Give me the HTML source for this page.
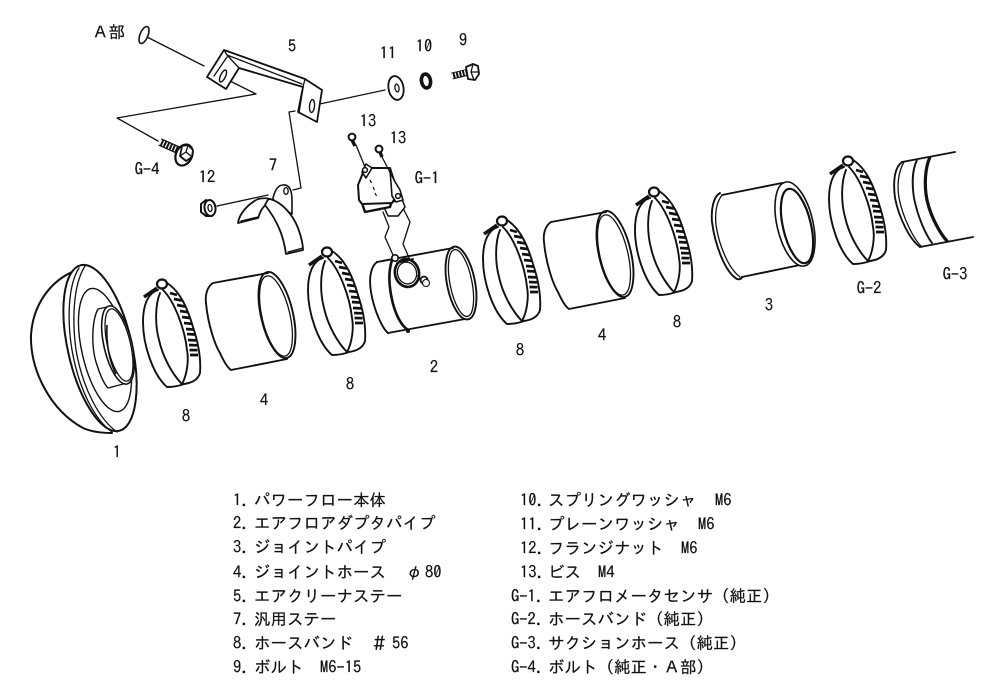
<!DOCTYPE html>
<html><head><meta charset="utf-8"><style>
html,body{margin:0;padding:0;background:#fff;}
svg{display:block;}
text{font-family:"IPAGothic","Liberation Sans","Noto Sans CJK JP",sans-serif;font-size:16.5px;fill:#111;stroke:#111;stroke-width:0.2;}
.c{text-anchor:middle;font-size:16.5px;}
.s{fill:none;stroke:#111;stroke-linecap:round;stroke-linejoin:round;}
.w{fill:#fff;stroke:#111;stroke-linejoin:round;}
.t{fill:none;stroke:#111;stroke-width:1.3;stroke-linecap:round;stroke-linejoin:round;}
</style></head><body>
<svg width="1000" height="700" viewBox="0 0 1000 700" xmlns="http://www.w3.org/2000/svg" stroke-width="1.9">
<defs>
<g id="clamp">
<path class="s" d="M15 10C5 13 0 25 0 42C0 65 10 95 24 107C30 107 36 106 41 104C48 103 55 100 57 93C58 80 56 65 50 47C45 30 38 12 24 3"/>
<path class="s" d="M17 13C12 25 12 45 16 60C20 78 30 95 39 104C44 95 46 80 44 70C42 50 32 22 20 10"/>
<path d="M1 17L14 8" stroke="#111" stroke-width="3.4" fill="none"/>
<ellipse cx="19" cy="4" rx="5" ry="4.5" class="w" stroke-width="2.2"/>
<path stroke="#111" stroke-width="2.7" fill="none" d="M27 13l7 2M31 19l8 1.5M34 25l8 1.5M37 31l8 1.2M39 37l8 1M41 43l8 .8M43 49l8 .6M44 54l8 .5M45 60l8 .4M46 65l8 .3M46.500 70l8 .2M47 75l8 0"/>
</g>
<g id="hose">
<path class="s" d="M213 283L268 273M213 283C207 287 205 295 206 303C208 325 215 345 220 353C224 362 228 368 231 370L287 359"/>
<ellipse cx="277" cy="315" rx="16" ry="44" transform="rotate(-13 277 315)" class="s"/>
<ellipse cx="276" cy="316" rx="14" ry="41" transform="rotate(-13 276 316)" class="t"/>
</g>
</defs>

<!-- Part 1 -->
<path class="s" stroke-width="2" d="M77 270C50 280 33 305 31 335C30 370 50 410 83 428C92 432 102 433 112 433"/>
<ellipse cx="100" cy="348" rx="32" ry="85" transform="rotate(-13 100 348)" class="w" stroke-width="2"/>
<path class="t" d="M79 268C68 285 67 320 72 350C79 390 95 420 112 432"/>
<path class="t" d="M85 266C73 285 72 320 76 350C83 390 100 420 117 432"/>
<ellipse cx="105" cy="350" rx="23" ry="63" transform="rotate(-13 105 350)" class="w" stroke-width="1.4"/>
<path class="w" stroke-width="1.4" d="M112 306L98 309C92 320 91 345 96 362C100 375 104 384 108 388L127 383Z"/>
<ellipse cx="118" cy="345" rx="14" ry="40" transform="rotate(-13 118 345)" class="w" stroke-width="1.6"/>
<ellipse cx="119" cy="345" rx="11.5" ry="37" transform="rotate(-13 119 345)" class="w" stroke-width="1.3"/>
<path d="M107 325C106 345 110 362 116 374" stroke="#111" stroke-width="1.6" fill="none"/>

<!-- clamps -->
<use href="#clamp" x="143" y="280"/>
<use href="#clamp" x="308" y="248"/>
<use href="#clamp" x="483" y="217"/>
<use href="#clamp" x="635" y="188"/>
<use href="#clamp" x="829" y="157"/>

<!-- hoses -->
<use href="#hose"/>
<use href="#hose" x="338" y="-61"/>

<!-- Pipe 3 -->
<path class="s" d="M722 195L782 183M742 277L800 265"/>
<path class="s" d="M720 193C713 197 711 210 712 222C715 245 725 272 737 279C740 280 742 278 742 277"/>
<path class="t" d="M722 195C716 203 715 215 716 225C719 245 728 268 740 277"/>
<ellipse cx="795" cy="224" rx="18" ry="43" transform="rotate(-13 795 224)" class="w" stroke-width="1.6"/>
<ellipse cx="797" cy="226" rx="14" ry="38" transform="rotate(-13 797 226)" class="w" stroke-width="2.2"/>

<!-- G-3 -->
<path class="s" d="M902 162L955 152M920 247L973 237"/>
<path class="s" d="M902 162C894 168 893 182 895 198C899 218 910 240 920 247"/>
<path class="t" d="M904 162C898 172 897 186 899 198C903 218 914 240 922 247"/>
<path class="s" d="M917 160C912 170 912 185 914 198C918 218 926 235 932 243"/>
<path d="M930 157C925 168 924 185 927 200C931 218 941 235 948 242" fill="none" stroke="#111" stroke-width="3.2"/>

<!-- Tube 2 -->
<path class="s" d="M377 262L453 248M388 333L465 319"/>
<path class="s" d="M377 262C370 267 369 280 371 292C374 310 382 328 388 333"/>
<path d="M392 260C388 272 389 288 393 304C397 318 402 326 408 330" fill="none" stroke="#111" stroke-width="2.6"/>
<ellipse cx="461" cy="283" rx="14" ry="37" transform="rotate(-11 461 283)" class="s"/>
<ellipse cx="461" cy="283" rx="11" ry="34" transform="rotate(-11 461 283)" class="t"/>
<circle cx="408" cy="331" r="2" fill="#111"/>

<!-- wires -->
<path class="t" d="M383 212L389 227L385 237L393 255"/>
<path class="t" d="M402 206L410 222L403 244L410 260"/>

<!-- Flange -->
<ellipse cx="407" cy="273" rx="12" ry="14" transform="rotate(-15 407 273)" fill="#fff" stroke="#111" stroke-width="2.6"/>
<ellipse cx="407" cy="273" rx="9.500" ry="11" transform="rotate(-15 407 273)" class="t"/>
<path class="s" d="M397 263L413 259M418 276L423 284"/>
<circle cx="395" cy="258" r="3.2" class="w" stroke-width="1.6"/>
<circle cx="424" cy="280" r="3.5" class="w" stroke-width="1.8"/>
<circle cx="426" cy="283" r="3.5" class="w" stroke-width="1.1"/>

<!-- Sensor -->
<path class="w" stroke-width="1.5" d="M383 205L402 199L405 207L398 216L388 216Z"/>
<path class="w" stroke-width="2.4" d="M362 203L365 212L390 207L392 200Z"/>
<path class="w" stroke-width="2" d="M365 168L390 168L398 193L392 203L362 204L359 200L358 185Z"/>
<path class="w" stroke-width="1.6" d="M362 172L366 164L372 168L366 178Z"/>
<circle cx="365" cy="170" r="2.4" class="w" stroke-width="1.5"/>
<path class="w" stroke-width="1.6" d="M390 170L394 180L400 190L403 200L396 202L392 196Z"/>
<circle cx="398" cy="196" r="2.4" class="w" stroke-width="1.5"/>
<path d="M370 180l1.5 3M373 187l1.5 3M375 193l1.5 3" stroke="#111" stroke-width="1.2" fill="none"/>
<path class="t" d="M356 145L365 167M382 157L393 178"/>
<!-- screws -->
<path d="M352 140L355 146" stroke="#111" stroke-width="3.4" fill="none"/>
<circle cx="352" cy="137" r="3.4" class="w" stroke-width="2"/>
<path d="M380 152L382 157" stroke="#111" stroke-width="3.4" fill="none"/>
<circle cx="379" cy="149" r="3.4" class="w" stroke-width="2"/>

<!-- Washer, spring, bolt -->
<ellipse cx="396" cy="88" rx="7.500" ry="12" transform="rotate(-10 396 88)" class="w" stroke-width="1.8"/>
<ellipse cx="397" cy="88" rx="2" ry="4" transform="rotate(-10 397 88)" class="t"/>
<ellipse cx="426" cy="81" rx="4.500" ry="7" transform="rotate(-10 426 81)" fill="#fff" stroke="#111" stroke-width="3.6"/>
<path d="M452 76L467 72.500" stroke="#111" stroke-width="7" fill="none"/>
<path d="M452 76L466 72.500" stroke="#fff" stroke-width="5" stroke-dasharray="1.2 2" fill="none"/>
<path class="w" stroke-width="1.8" d="M466 67L473 64L478 66L479 74L475 80L468 79Z"/>
<path class="t" d="M473 64L471 72L474 80M471 72L479 72"/>

<!-- Connectors -->
<ellipse cx="144" cy="35" rx="4" ry="9" transform="rotate(22 144 35)" class="s" stroke-width="1.6"/>
<path class="t" d="M147 37L204 66"/>
<path class="t" d="M228 80L256 94L117 118L158 141"/>
<path class="t" d="M315 105L385 90"/>
<path class="t" d="M295 111L289 112L301 188L293 190"/>
<path class="t" d="M217 206L268 195"/>

<!-- Bracket 5 -->
<path class="w" stroke-width="1.8" d="M224 50L207 77L226 89L239 68L303 87L298 112L317 122L322 90L305 79Z"/>
<path class="t" d="M227 55L302 84M224 50L227 55L239 68M305 79L303 87M227 57L214 76"/>
<path class="t" d="M299 113L303 88"/>
<ellipse cx="223" cy="76" rx="2.500" ry="6.500" transform="rotate(25 223 76)" class="w" stroke-width="1.4"/>
<ellipse cx="312" cy="106" rx="2.500" ry="6.500" transform="rotate(5 312 106)" class="w" stroke-width="1.4"/>

<!-- Bolt G-4 -->
<path d="M160 142L178 150" stroke="#111" stroke-width="8" fill="none"/>
<path d="M160 142L178 150" stroke="#fff" stroke-width="5.500" stroke-dasharray="1.2 2" fill="none"/>
<ellipse cx="184" cy="155" rx="8" ry="11" transform="rotate(25 184 155)" fill="#fff" stroke="#111" stroke-width="2.2"/>
<path class="w" stroke-width="1.8" d="M182 146L188 145L193 150L192 157L186 161L180 156Z"/>
<path class="t" d="M188 145L186 152L192 157M186 152L180 156"/>

<!-- Nut 12 -->
<path class="w" stroke-width="2" d="M206 200L201 204L201 212L206 216L212 216Z"/>
<ellipse cx="210" cy="208" rx="5.500" ry="8" transform="rotate(-8 210 208)" class="w" stroke-width="2"/>
<ellipse cx="210" cy="208" rx="2" ry="3.500" transform="rotate(-8 210 208)" class="t"/>

<!-- Part 7 -->
<path class="w" stroke-width="1.6" d="M273 198C275 190 278 185 283 185C289 184 292 190 292 200C292 206 292 210 292 214L275 205Z"/>
<ellipse cx="286" cy="191" rx="2.200" ry="3.400" class="t"/>
<path class="w" stroke-width="1.8" d="M238 223C239 214 248 204 258 199C263 198 267 198 270 199L262 209C260 212 259 216 258 218Z"/>
<path class="w" stroke-width="1.8" d="M265 205C267 201 268 199 270 199C282 202 293 215 298 228C301 236 303 245 303 250L286 254C284 240 280 224 265 205Z"/>
<path class="t" d="M288 252L303 248"/>
<path class="t" d="M241 221L258 217"/>

<!-- Diagram labels -->
<text x="92" y="38">Ａ部</text>
<text class="c" x="292" y="52">5</text>
<text class="c" x="388" y="59">11</text>
<text class="c" x="424" y="52">10</text>
<text class="c" x="463" y="46">9</text>
<text class="c" x="368" y="127">13</text>
<text class="c" x="398" y="144">13</text>
<text class="c" x="427" y="184">G-1</text>
<text class="c" x="147" y="175">G-4</text>
<text class="c" x="207" y="183">12</text>
<text class="c" x="273" y="171">7</text>
<text class="c" x="117" y="458">1</text>
<text class="c" x="186" y="422">8</text>
<text class="c" x="264" y="406">4</text>
<text class="c" x="350" y="390">8</text>
<text class="c" x="434" y="373">2</text>
<text class="c" x="520" y="356">8</text>
<text class="c" x="602" y="341">4</text>
<text class="c" x="677" y="328">8</text>
<text class="c" x="769" y="311">3</text>
<text class="c" x="869" y="294">G-2</text>
<text class="c" x="955" y="280">G-3</text>

<!-- Left list -->
<text x="233" y="506">1.</text><text x="254" y="506">パワーフロー本体</text>
<text x="233" y="529">2.</text><text x="254" y="529">エアフロアダプタパイプ</text>
<text x="233" y="553">3.</text><text x="254" y="553">ジョイントパイプ</text>
<text x="233" y="578">4.</text><text x="254" y="578">ジョイントホース</text><text x="406" y="578">φ</text><text x="425" y="578">80</text>
<text x="233" y="602">5.</text><text x="254" y="602">エアクリーナステー</text>
<text x="233" y="625">7.</text><text x="254" y="625">汎用ステー</text>
<text x="233" y="649">8.</text><text x="254" y="649">ホースバンド</text><text x="371" y="649">＃</text><text x="392" y="649">56</text>
<text x="233" y="673">9.</text><text x="254" y="673">ボルト</text><text x="320" y="673">M6-15</text>

<!-- Right list -->
<text x="520" y="506">10.</text><text x="548" y="506">スプリングワッシャ</text><text x="715" y="506">M6</text>
<text x="520" y="530">11.</text><text x="548" y="530">プレーンワッシャ</text><text x="698" y="530">M6</text>
<text x="520" y="554">12.</text><text x="548" y="554">フランジナット</text><text x="681" y="554">M6</text>
<text x="520" y="578">13.</text><text x="548" y="578">ビス</text><text x="598" y="578">M4</text>
<text x="511" y="602">G-1.</text><text x="548" y="602">エアフロメータセンサ（純正）</text>
<text x="511" y="625">G-2.</text><text x="548" y="625">ホースバンド（純正）</text>
<text x="511" y="649">G-3.</text><text x="548" y="649">サクションホース（純正）</text>
<text x="511" y="673">G-4.</text><text x="548" y="673">ボルト（純正・Ａ部）</text>
</svg>
</body></html>
